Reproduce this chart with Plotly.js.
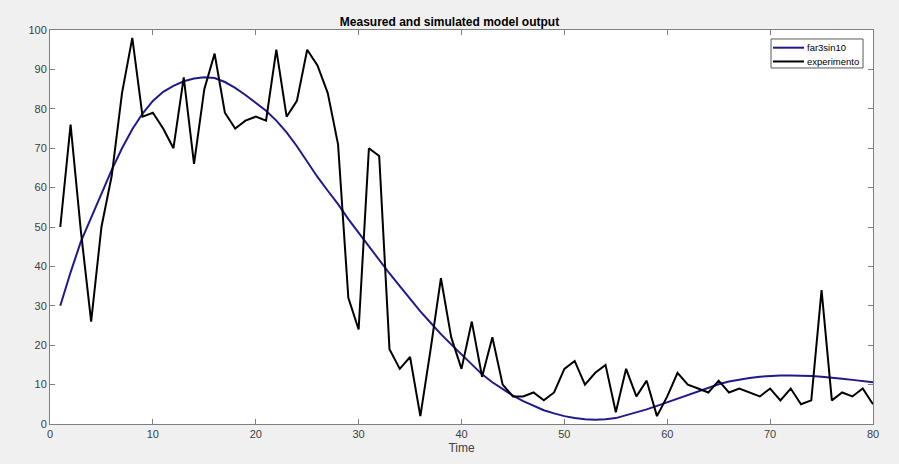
<!DOCTYPE html>
<html>
<head>
<meta charset="utf-8">
<script src="https://cdn.plot.ly/plotly-3.0.1.min.js"></script>
<style>html,body{margin:0;padding:0;background:#f0f0f0;}</style>
</head>
<body>
<div id="chart" style="width:899px;height:464px;"></div>
<script>
const time = Array.from({length: 80}, (_, i) => i + 1);

const experimento = [
  50, 76, 49, 26, 50, 63, 84, 98, 78, 79,
  75, 70, 88, 66, 85, 94, 79, 75, 77, 78,
  77, 95, 78, 82, 95, 91, 84, 71, 32, 24,
  70, 68, 19, 14, 17, 2, 19, 37, 22, 14,
  26, 12, 22, 10, 7, 7, 8, 6, 8, 14,
  16, 10, 13, 15, 3, 14, 7, 11, 2, 7,
  13, 10, 9, 8, 11, 8, 9, 8, 7, 9,
  6, 9, 5, 6, 34, 6, 8, 7, 9, 5
];

const far3sin10 = [
  30.0, 38.5, 46.3, 52.5, 58.5, 64.5, 70.0, 74.8, 78.8, 82.0,
  84.3, 85.8, 87.0, 87.7, 88.0, 87.8, 86.8, 85.3, 83.5, 81.5,
  79.5, 77.0, 74.0, 70.5, 66.5, 62.7, 59.2, 55.8, 52.0, 48.5,
  45.0, 41.5, 38.2, 35.0, 31.8, 28.6, 25.7, 22.8, 20.2, 17.6,
  15.0, 12.6, 10.6, 8.8, 7.2, 5.8, 4.6, 3.5, 2.7, 2.0,
  1.5, 1.2, 1.1, 1.2, 1.5, 2.2, 2.9, 3.7, 4.6, 5.5,
  6.5, 7.5, 8.4, 9.3, 10.1, 10.8, 11.3, 11.7, 12.0, 12.2,
  12.3, 12.3, 12.3, 12.2, 12.0, 11.8, 11.5, 11.2, 10.9, 10.6
];

const seriesNames = ['far3sin10', 'experimento'];
const seriesColors = ['#1f1a8c', '#000000'];

const xTicks = [0, 10, 20, 30, 40, 50, 60, 70, 80];
const yTicks = [0, 10, 20, 30, 40, 50, 60, 70, 80, 90, 100];

const traces = [
  {x: time, y: far3sin10, type: 'scatter', mode: 'lines', name: seriesNames[0],
   line: {color: seriesColors[0], width: 2}, showlegend: false},
  {x: time, y: experimento, type: 'scatter', mode: 'lines', name: seriesNames[1],
   line: {color: seriesColors[1], width: 2}, showlegend: false}
];

const axisCommon = {
  showline: true, mirror: 'ticks', linecolor: '#7f7f7f', linewidth: 1,
  ticks: 'inside', ticklen: 5, tickcolor: '#7f7f7f', tickwidth: 1,
  showgrid: false, zeroline: false,
  tickfont: {family: 'Liberation Sans, Arial, sans-serif', size: 11, color: '#404040'}
};

// compact MATLAB-style legend box (paper coordinates)
const legBox = {x0: 0.8761, x1: 0.9879, y0: 0.9036, y1: 0.9772};
const legRowsY = [0.9551, 0.9201];
const legLineX = [0.8785, 0.9162];
const legTextX = 0.9174;

const shapes = [
  {type: 'rect', xref: 'paper', yref: 'paper', x0: legBox.x0, x1: legBox.x1,
   y0: legBox.y0, y1: legBox.y1, fillcolor: '#ffffff',
   line: {color: '#5a5a5a', width: 1}, layer: 'above'}
];
const annotations = [];
seriesNames.forEach((n, i) => {
  shapes.push({type: 'line', xref: 'paper', yref: 'paper',
    x0: legLineX[0], x1: legLineX[1], y0: legRowsY[i], y1: legRowsY[i],
    line: {color: seriesColors[i], width: 2}, layer: 'above'});
  annotations.push({xref: 'paper', yref: 'paper', x: legTextX, y: legRowsY[i],
    xanchor: 'left', yanchor: 'middle', text: n, showarrow: false,
    font: {size: 9.5, color: '#000000'}});
});

const layout = {
  width: 899, height: 464,
  margin: {l: 50, r: 26, t: 30, b: 40},
  paper_bgcolor: '#f0f0f0', plot_bgcolor: '#ffffff',
  font: {family: 'Liberation Sans, Arial, sans-serif', size: 11, color: '#404040'},
  title: {text: '<b>Measured and simulated model output</b>',
          font: {size: 12, color: '#000000'}, x: 0.5, xanchor: 'center',
          y: 1, yref: 'paper', yanchor: 'bottom', pad: {b: 4}},
  xaxis: Object.assign({}, axisCommon, {
    range: [0, 80], tickvals: xTicks, ticktext: xTicks.map(String),
    title: {text: 'Time', font: {size: 12, color: '#404040'}, standoff: 4}
  }),
  yaxis: Object.assign({}, axisCommon, {
    range: [0, 100], tickvals: yTicks, ticktext: yTicks.map(String)
  }),
  showlegend: false,
  shapes: shapes,
  annotations: annotations
};

Plotly.newPlot('chart', traces, layout, {displayModeBar: false, staticPlot: true});
</script>
</body>
</html>
